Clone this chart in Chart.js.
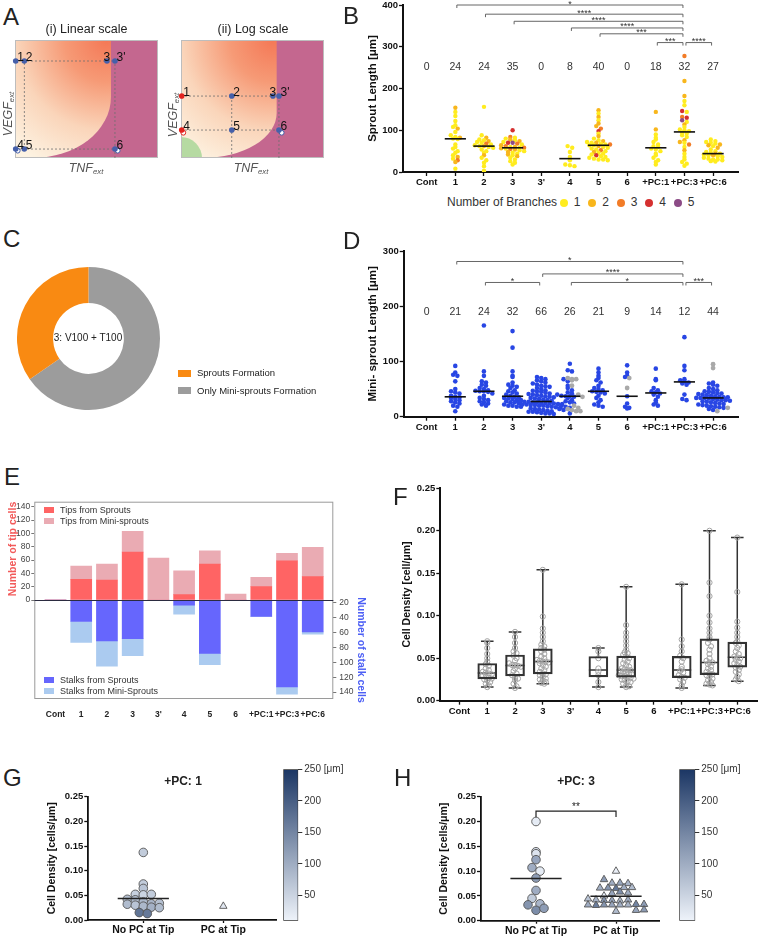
<!DOCTYPE html>
<html>
<head>
<meta charset="utf-8">
<script src="https://cdn.jsdelivr.net/npm/chart.js@4.4.1/dist/chart.umd.min.js"></script>
<style>
  body { margin: 0; background: #fff; width: 762px; height: 937px; position: relative; overflow: hidden; font-family: "Liberation Sans", Arial, sans-serif; }
  canvas { position: absolute; }
  .t { position: absolute; white-space: nowrap; line-height: 1; color: #222; }
  .t sub { font-size: 0.62em; vertical-align: -0.3em; line-height: 0; }
  .sw { position: absolute; }
</style>
</head>
<body>
<script>
// ---------- data ----------
const cats = ['Cont', '1', '2', '3', "3'", '4', '5', '6', '+PC:1', '+PC:3', '+PC:6'];

// A: schematic (percent of TNF / VEGF range)
const pointNames = ['1', '2', '3', "3'", '4', '5', '6'];
const linX = [0.5, 6.5, 64.3, 69.9, 0.5, 6.5, 69.9];
const linY = [82.2, 82.2, 82.2, 82.2, 7.6, 7.6, 7.6];
const logX = [0.5, 35.5, 64.3, 68.5, 0.5, 35.5, 68.5];
const logY = [52.5, 52.5, 52.5, 52.5, 23.7, 23.7, 23.7];

// B: sprout length per condition, and number of branches per sprout
const sproutLen = [
  [],
  [154, 144, 134, 122, 112, 108, 104, 96, 88, 84, 82, 80, 79, 66, 60, 56, 50, 46, 40, 36, 32, 28, 24, 8],
  [156, 88, 82, 78, 76, 74, 72, 70, 68, 66, 64, 62, 62, 60, 58, 54, 50, 46, 40, 34, 28, 22, 14, 3],
  [100, 84, 82, 80, 78, 76, 74, 72, 70, 70, 68, 66, 64, 62, 60, 60, 58, 58, 57, 56, 55, 54, 52, 50, 48, 46, 44, 42, 40, 38, 34, 30, 26, 22, 18],
  [],
  [62, 58, 48, 36, 28, 18, 16, 14],
  [148, 140, 132, 124, 116, 110, 104, 98, 92, 86, 80, 76, 74, 72, 70, 70, 68, 66, 66, 64, 64, 62, 60, 58, 56, 54, 52, 50, 48, 46, 44, 42, 40, 38, 36, 34, 32, 30, 30, 28],
  [],
  [144, 102, 90, 82, 78, 72, 66, 62, 60, 56, 54, 50, 44, 40, 34, 28, 24, 18],
  [278, 218, 182, 170, 160, 146, 144, 132, 130, 124, 120, 114, 108, 102, 100, 98, 94, 92, 88, 84, 76, 72, 70, 66, 60, 52, 44, 36, 30, 24, 20, 15],
  [78, 74, 72, 70, 68, 66, 64, 62, 58, 54, 50, 48, 46, 44, 44, 42, 40, 40, 38, 36, 34, 32, 30, 30, 28, 26, 25]
];
const sproutBranches = [
  [],
  [2, 1, 1, 1, 1, 1, 2, 1, 1, 1, 2, 1, 1, 1, 1, 1, 1, 1, 1, 2, 1, 3, 2, 1],
  [1, 1, 2, 1, 1, 2, 1, 1, 3, 1, 1, 1, 2, 1, 1, 1, 1, 1, 2, 1, 1, 1, 1, 1],
  [4, 3, 1, 1, 2, 1, 2, 1, 4, 5, 3, 1, 2, 3, 1, 2, 1, 3, 2, 1, 3, 2, 1, 1, 2, 1, 1, 2, 1, 2, 1, 1, 1, 1, 1],
  [],
  [1, 1, 1, 1, 1, 1, 1, 1],
  [2, 1, 2, 1, 2, 2, 3, 4, 1, 2, 1, 1, 2, 1, 1, 2, 1, 1, 3, 1, 1, 2, 1, 1, 1, 1, 3, 1, 2, 1, 1, 1, 4, 1, 1, 1, 1, 1, 1, 1],
  [],
  [2, 2, 1, 1, 1, 1, 1, 1, 1, 1, 1, 1, 1, 1, 1, 1, 1, 1],
  [3, 2, 2, 1, 1, 4, 1, 3, 4, 5, 1, 2, 1, 1, 1, 1, 1, 1, 1, 1, 2, 2, 1, 3, 1, 2, 1, 1, 1, 1, 1, 1],
  [1, 1, 1, 1, 1, 2, 2, 1, 2, 1, 1, 1, 1, 2, 1, 1, 1, 2, 1, 1, 1, 1, 1, 1, 1, 1, 1]
];
const branchColors = ['#ffec1f', '#f8b61c', '#f27c27', '#d53030', '#8c4b86'];
const bFrom = [1, 2, 3, 5, 6, 8, 9];
const bTo = [9, 9, 9, 9, 9, 9, 10];
const bLevel = [400, 378, 361, 345, 331, 310, 310];
const bStars = ['*', '****', '****', '****', '***', '***', '****'];

// C: outcome share for condition 3
const shareLabels = ['Only Mini-sprouts Formation', 'Sprouts Formation'];
const shareCounts = [66, 35];

// D: mini-sprout length (blue) and extra grey points
const miniLen = [
  [],
  [92, 80, 76, 74, 64, 50, 46, 44, 42, 38, 36, 35, 34, 32, 30, 28, 26, 24, 20, 18, 10],
  [165, 82, 74, 64, 62, 58, 56, 52, 50, 48, 47, 46, 46, 45, 42, 38, 34, 32, 30, 28, 26, 24, 22, 20],
  [155, 125, 82, 74, 72, 62, 58, 56, 54, 52, 48, 46, 44, 42, 40, 38, 36, 35, 34, 33, 32, 30, 30, 28, 26, 26, 24, 22, 20, 20, 18, 18],
  [72, 70, 68, 66, 64, 62, 60, 58, 56, 55, 54, 52, 50, 48, 47, 46, 45, 44, 42, 41, 40, 39, 38, 37, 36, 35, 34, 33, 32, 31, 30, 29, 28, 27, 27, 26, 26, 25, 25, 24, 24, 23, 23, 22, 22, 21, 21, 20, 20, 19, 18, 17, 16, 15, 14, 13, 12, 11, 10, 9, 9, 8, 7, 6, 6, 5],
  [96, 84, 82, 68, 64, 56, 52, 48, 44, 42, 40, 38, 37, 37, 36, 34, 30, 28, 26, 24, 20, 18, 16, 14, 12, 6],
  [87, 80, 74, 70, 66, 62, 56, 52, 50, 48, 46, 45, 44, 42, 38, 34, 30, 26, 22, 20, 18],
  [93, 80, 74, 72, 37, 24, 18, 16, 15],
  [87, 68, 66, 52, 48, 46, 44, 42, 40, 36, 30, 26, 22, 20],
  [144, 92, 84, 68, 66, 64, 62, 60, 58, 40, 32, 30],
  [62, 60, 58, 56, 52, 50, 48, 46, 45, 44, 43, 42, 41, 40, 39, 38, 37, 36, 35, 35, 34, 34, 34, 33, 32, 31, 30, 30, 29, 28, 27, 26, 25, 24, 23, 22, 21, 20, 19, 18, 17, 16, 14, 12]
];
const miniLenGray = [[], [], [], [], [], [70, 68, 68, 66, 56, 40, 36, 20, 16, 14, 12, 10, 10], [], [70, 52], [], [], [95, 88, 16, 10]];
const dFrom = [1, 4, 2, 5, 9];
const dTo = [9, 9, 4, 9, 10];
const dLevel = [281, 258.5, 243, 243, 243];
const dStars = ['*', '****', '*', '*', '***'];

// E: tip and stalk cells
const tipsSprouts = [0, 31, 30, 72, 0, 8, 54, 0, 20, 59, 35];
const tipsMini = [0, 20, 24, 31, 63, 36, 20, 9, 14, 11, 44];
const stalksSprouts = [0, 29, 55, 52, 0, 7, 72, 0, 22, 117, 43];
const stalksMini = [0, 28, 34, 23, 0, 12, 15, 0, 0, 10, 3];
const tipTicks = [0, 20, 40, 60, 80, 100, 120, 140];
const stalkTicks = [20, 40, 60, 80, 100, 120, 140];

// F: cell density per sprout
const cellDensity = [
  [],
  [0.070, 0.068, 0.062, 0.055, 0.050, 0.046, 0.043, 0.041, 0.038, 0.036, 0.034, 0.033, 0.032, 0.031, 0.030, 0.028, 0.027, 0.026, 0.025, 0.024, 0.022, 0.020, 0.018, 0.016],
  [0.081, 0.075, 0.068, 0.062, 0.058, 0.056, 0.053, 0.050, 0.047, 0.044, 0.042, 0.042, 0.041, 0.040, 0.038, 0.035, 0.032, 0.030, 0.027, 0.026, 0.024, 0.020, 0.017, 0.015],
  [0.154, 0.099, 0.085, 0.080, 0.075, 0.070, 0.066, 0.064, 0.062, 0.060, 0.058, 0.055, 0.052, 0.050, 0.048, 0.047, 0.046, 0.046, 0.045, 0.044, 0.042, 0.040, 0.038, 0.036, 0.034, 0.032, 0.031, 0.030, 0.028, 0.026, 0.025, 0.024, 0.022, 0.021, 0.020],
  [],
  [0.062, 0.058, 0.050, 0.038, 0.034, 0.030, 0.022, 0.016],
  [0.134, 0.089, 0.080, 0.075, 0.070, 0.065, 0.060, 0.057, 0.056, 0.054, 0.052, 0.050, 0.048, 0.046, 0.044, 0.042, 0.040, 0.038, 0.037, 0.036, 0.036, 0.035, 0.034, 0.033, 0.032, 0.031, 0.030, 0.029, 0.029, 0.028, 0.027, 0.026, 0.025, 0.024, 0.023, 0.022, 0.020, 0.018, 0.017, 0.016],
  [],
  [0.137, 0.072, 0.064, 0.058, 0.053, 0.050, 0.046, 0.040, 0.037, 0.035, 0.033, 0.030, 0.028, 0.027, 0.025, 0.022, 0.018, 0.015],
  [0.200, 0.139, 0.123, 0.100, 0.092, 0.085, 0.080, 0.075, 0.072, 0.068, 0.064, 0.060, 0.055, 0.050, 0.047, 0.045, 0.045, 0.043, 0.040, 0.038, 0.036, 0.034, 0.032, 0.031, 0.030, 0.028, 0.026, 0.024, 0.022, 0.020, 0.019, 0.018],
  [0.192, 0.128, 0.093, 0.086, 0.080, 0.075, 0.070, 0.068, 0.065, 0.062, 0.058, 0.055, 0.052, 0.051, 0.050, 0.048, 0.046, 0.044, 0.042, 0.040, 0.039, 0.036, 0.034, 0.031, 0.028, 0.025, 0.023]
];

// G, H: density vs pericyte at tip, coloured by sprout length
const tipGroups = ['No PC at Tip', 'PC at Tip'];
const gNoPcDensity = [0.137, 0.073, 0.064, 0.052, 0.051, 0.052, 0.042, 0.041, 0.037, 0.033, 0.032, 0.034, 0.030, 0.028, 0.026, 0.025, 0.015, 0.013];
const gNoPcLength = [60, 60, 70, 55, 50, 60, 75, 80, 85, 90, 80, 75, 70, 85, 95, 80, 170, 165];
const gPcDensity = [0.028];
const gPcLength = [25];
const hNoPcDensity = [0.200, 0.139, 0.135, 0.123, 0.107, 0.100, 0.086, 0.061, 0.045, 0.032, 0.034, 0.021, 0.025];
const hNoPcLength = [20, 40, 30, 110, 100, 20, 120, 100, 60, 130, 90, 140, 120];
const hPcDensity = [0.100, 0.083, 0.076, 0.076, 0.075, 0.066, 0.066, 0.065, 0.067, 0.067, 0.050, 0.055, 0.058, 0.056, 0.044, 0.042, 0.041, 0.041, 0.040, 0.042, 0.032, 0.031, 0.032, 0.032, 0.033, 0.033, 0.032, 0.032, 0.021, 0.019, 0.022];
const hPcLength = [15, 120, 100, 110, 90, 95, 130, 170, 100, 80, 15, 110, 140, 100, 70, 90, 130, 110, 80, 100, 100, 160, 130, 110, 150, 120, 100, 90, 110, 80, 120];
const cbMin = 10, cbMax = 250;
const cbTicks = [50, 100, 150, 200, 250];

// ---------- helpers ----------
const FONT = '"Liberation Sans", Arial, sans-serif';
Chart.defaults.font.family = FONT;
Chart.defaults.color = '#222';
Chart.defaults.animation = false;
Chart.defaults.responsive = false;
Chart.defaults.plugins.legend.display = false;
Chart.defaults.plugins.tooltip.enabled = false;

function mkCanvas(x, y, w, h) {
  const c = document.createElement('canvas');
  c.width = w; c.height = h;
  c.style.left = x + 'px'; c.style.top = y + 'px';
  document.body.appendChild(c);
  return c;
}

function txt(html, x, y, size, o = {}) {
  const d = document.createElement('div');
  d.className = 't';
  d.innerHTML = html;
  d.style.fontSize = size + 'px';
  if (o.bold) d.style.fontWeight = 'bold';
  if (o.italic) d.style.fontStyle = 'italic';
  if (o.color) d.style.color = o.color;
  d.style.left = x + 'px';
  if (o.rot) {
    d.style.top = y + 'px';
    d.style.transform = `translate(-50%,-50%) rotate(${o.rot}deg)`;
  } else {
    d.style.top = (y - 0.846 * size) + 'px';
    if (o.align === 'center') d.style.transform = 'translateX(-50%)';
  }
  document.body.appendChild(d);
}

function swatch(x, y, w, h, color, round) {
  const d = document.createElement('div');
  d.className = 'sw';
  d.style.cssText = `left:${x}px;top:${y}px;width:${w}px;height:${h}px;background:${color};` + (round ? 'border-radius:50%;' : '');
  document.body.appendChild(d);
}

function median(a) {
  const s = [...a].sort((p, q) => p - q), n = s.length;
  return n % 2 ? s[(n - 1) / 2] : (s[n / 2 - 1] + s[n / 2]) / 2;
}
function mean(a) { return a.reduce((p, q) => p + q, 0) / a.length; }
function quantile(a, p) {
  const s = [...a].sort((u, v) => u - v);
  const pos = (s.length - 1) * p, lo = Math.floor(pos);
  return s[lo] + (s[Math.min(lo + 1, s.length - 1)] - s[lo]) * (pos - lo);
}

// spread points of one group sideways in rows (dot plot layout)
function rows(vals, center, yPx, xPx, binPx, gapPx) {
  const bins = new Map();
  vals.forEach((v, i) => {
    const b = Math.round(v * yPx / binPx);
    if (!bins.has(b)) bins.set(b, []);
    bins.get(b).push(i);
  });
  const xs = new Array(vals.length);
  bins.forEach(list => list.forEach((idx, j) => {
    xs[idx] = center + (j - (list.length - 1) / 2) * gapPx / xPx;
  }));
  return xs;
}

function cmap(v) {
  const lo = [238, 243, 250], hi = [27, 54, 100];
  const t = Math.min(1, Math.max(0, (v - cbMin) / (cbMax - cbMin)));
  return `rgb(${lo.map((c, k) => Math.round(c + (hi[k] - c) * t)).join(',')})`;
}

function catAxis(min, max, h, size) {
  return {
    type: 'linear', min, max, offset: false,
    afterBuildTicks: s => { s.ticks = cats.map((c, i) => ({ value: i })); },
    afterFit: s => { s.height = h; s.paddingLeft = 0; s.paddingRight = 0; },
    border: { color: '#111', width: 2 },
    grid: { drawOnChartArea: false, offset: false, tickLength: 4, tickColor: '#111', tickWidth: 1.3 },
    ticks: { callback: v => cats[v], autoSkip: false, maxRotation: 0, padding: 1, color: '#111', font: { size: size, weight: 'bold' } }
  };
}

function valAxis(min, max, step, w, title, titleSize, titlePad, fmt) {
  return {
    min, max,
    afterFit: s => { s.width = w; s.paddingTop = 0; s.paddingBottom = 0; },
    border: { color: '#111', width: 2 },
    grid: { drawOnChartArea: false, tickLength: 4, tickColor: '#111', tickWidth: 1.3 },
    ticks: { stepSize: step, padding: 1, color: '#111', font: { size: 9.5, weight: 'bold' }, callback: fmt || (v => v) },
    title: { display: true, text: title, color: '#111', font: { size: titleSize, weight: 'bold' }, padding: { top: titlePad, bottom: 0 } }
  };
}

function dotExtras(groups, countAt, from, to, level, stars) {
  return {
    id: 'dotExtras',
    afterDatasetsDraw(chart) {
      const { ctx, scales: { x, y } } = chart;
      ctx.save();
      groups.forEach((vals, i) => {
        const cx = x.getPixelForValue(i);
        ctx.font = '10.5px ' + FONT;
        ctx.fillStyle = '#333';
        ctx.textAlign = 'center';
        ctx.textBaseline = 'middle';
        ctx.fillText(String(vals.length), cx, y.getPixelForValue(countAt));
        if (!vals.length) return;
        const my = y.getPixelForValue(median(vals));
        ctx.strokeStyle = '#111';
        ctx.lineWidth = 1.6;
        ctx.beginPath();
        ctx.moveTo(x.getPixelForValue(i - 0.37), my);
        ctx.lineTo(x.getPixelForValue(i + 0.37), my);
        ctx.stroke();
      });
      ctx.strokeStyle = '#555';
      ctx.lineWidth = 0.9;
      ctx.fillStyle = '#333';
      ctx.font = '9px ' + FONT;
      ctx.textBaseline = 'alphabetic';
      from.forEach((f, k) => {
        const x1 = x.getPixelForValue(f) + 1.5, x2 = x.getPixelForValue(to[k]) - 1.5;
        const py = y.getPixelForValue(level[k]);
        ctx.beginPath();
        ctx.moveTo(x1, py + 3); ctx.lineTo(x1, py); ctx.lineTo(x2, py); ctx.lineTo(x2, py + 3);
        ctx.stroke();
        ctx.fillText(stars[k], (x1 + x2) / 2, py + 1.5);
      });
      ctx.restore();
    }
  };
}

// ---------- A ----------
function phasePlugin(shape) {
  return {
    id: 'phase',
    beforeDatasetsDraw(chart) {
      const { ctx, chartArea: a, scales: { x, y } } = chart;
      ctx.save();
      ctx.fillStyle = '#c4678f';
      ctx.fillRect(a.left, a.top, a.width, a.height);
      const xb = x.getPixelForValue(shape.xb), yc = y.getPixelForValue(shape.yc), x0 = x.getPixelForValue(shape.x0);
      const g = ctx.createRadialGradient(xb - 4, a.top, 0, xb - 4, a.top, 140);
      g.addColorStop(0, '#f47856');
      g.addColorStop(0.3, '#f69a76');
      g.addColorStop(0.65, '#fad5ba');
      g.addColorStop(1, '#fdf3e2');
      ctx.fillStyle = g;
      ctx.beginPath();
      ctx.moveTo(a.left, a.top);
      ctx.lineTo(xb, a.top);
      ctx.lineTo(xb, yc);
      ctx.ellipse(x0, yc, xb - x0, a.bottom - yc, 0, 0, Math.PI / 2);
      ctx.lineTo(a.left, a.bottom);
      ctx.closePath();
      ctx.fill();
      if (shape.green) {
        const rx = x.getPixelForValue(shape.green[0]) - a.left, ry = a.bottom - y.getPixelForValue(shape.green[1]);
        ctx.fillStyle = '#b6daa2';
        ctx.beginPath();
        ctx.moveTo(a.left, a.bottom);
        ctx.ellipse(a.left, a.bottom, rx, ry, 0, -Math.PI / 2, 0);
        ctx.closePath();
        ctx.fill();
      }
      ctx.strokeStyle = '#bdbdbd';
      ctx.lineWidth = 1;
      ctx.strokeRect(a.left + 0.5, a.top + 0.5, a.width - 1, a.height - 1);
      ctx.strokeStyle = '#6f6f6f';
      ctx.lineWidth = 0.8;
      ctx.setLineDash([2, 2]);
      shape.guides.forEach(([x1, y1, x2, y2]) => {
        ctx.beginPath();
        ctx.moveTo(x.getPixelForValue(x1), y.getPixelForValue(y1));
        ctx.lineTo(x.getPixelForValue(x2), y.getPixelForValue(y2));
        ctx.stroke();
      });
      ctx.restore();
    },
    afterDatasetsDraw(chart) {
      const { ctx } = chart;
      const pts = chart.getDatasetMeta(0).data;
      ctx.save();
      ctx.font = '12px ' + FONT;
      ctx.fillStyle = '#111';
      ctx.textBaseline = 'alphabetic';
      pts.forEach((p, i) => {
        const name = pointNames[i];
        ctx.textAlign = name === '3' ? 'center' : 'left';
        ctx.fillText(name, name === '3' ? p.x : p.x + 1.5, p.y - 0.5);
      });
      ctx.restore();
    }
  };
}

function phaseChart(left, px, py, red, openX, openY, openRed, shape) {
  new Chart(mkCanvas(left, 30, 163, 138), {
    type: 'scatter',
    data: {
      datasets: [
        { data: px.map((v, i) => ({ x: v, y: py[i] })), pointRadius: 2.8, pointBorderWidth: 0,
          pointBackgroundColor: px.map((v, i) => red.includes(i) ? '#e3231f' : '#4660aa'), clip: false },
        { data: openX.map((v, i) => ({ x: v, y: openY[i] })), pointRadius: 2.4, pointBackgroundColor: '#fff',
          pointBorderColor: openRed.map(r => r ? '#e3231f' : '#4660aa'), pointBorderWidth: 1, clip: false }
      ]
    },
    options: {
      layout: { padding: 10 },
      scales: { x: { display: false, min: 0, max: 100 }, y: { display: false, min: 0, max: 100 } }
    },
    plugins: [phasePlugin(shape)]
  });
}

phaseChart(5, linX, linY, [], [1.9, 71.8], [6.2, 6.2], [false, false], {
  xb: 67.1, yc: 51.7, x0: 12.6,
  guides: [[0, 82.2, 69.9, 82.2], [0, 7.6, 69.9, 7.6], [6.5, 7.6, 6.5, 82.2], [69.9, 0, 69.9, 82.2]]
});
phaseChart(171, logX, logY, [0, 4], [1.6, 70.4], [21.4, 21.4], [true, false], {
  xb: 66.9, yc: 38.1, x0: 15.4, green: [14.7, 17.8],
  guides: [[0, 52.5, 68.5, 52.5], [0, 23.7, 68.5, 23.7], [35.5, 0, 35.5, 52.5], [68.5, 0, 68.5, 52.5]]
});

txt('A', 3, 25.5, 24);
txt('(i) Linear scale', 86.5, 33.5, 12.5, { align: 'center' });
txt('(ii) Log scale', 253, 33.5, 12.5, { align: 'center' });
txt('VEGF<sub>ext</sub>', 7.5, 114, 12.5, { rot: -90, italic: true, color: '#555' });
txt('VEGF<sub>ext</sub>', 173, 115, 12.5, { rot: -90, italic: true, color: '#555' });
txt('TNF<sub>ext</sub>', 86, 172.5, 12.5, { align: 'center', italic: true, color: '#555' });
txt('TNF<sub>ext</sub>', 251, 172.5, 12.5, { align: 'center', italic: true, color: '#555' });

// ---------- B ----------
const bPoints = [], bColors = [];
sproutLen.forEach((vals, i) => {
  const xs = rows(vals, i, 0.4175, 28.63, 3.2, 4.6);
  vals.forEach((v, j) => {
    bPoints.push({ x: xs[j], y: v });
    bColors.push(branchColors[sproutBranches[i][j] - 1]);
  });
});
new Chart(mkCanvas(355, 0, 400, 192), {
  type: 'scatter',
  data: { datasets: [{ data: bPoints, pointRadius: 2.2, pointBorderWidth: 0, pointBackgroundColor: bColors }] },
  options: {
    layout: { padding: { top: 5, right: 17, left: 0, bottom: 0 } },
    scales: {
      x: catAxis(-0.828, 10.87, 20, 9.5),
      y: valAxis(0, 400, 100, 48, 'Sprout Length [μm]', 11.5, 11)
    }
  },
  plugins: [dotExtras(sproutLen, 251, bFrom, bTo, bLevel, bStars)]
});
txt('B', 343, 24, 24);
txt('Number of Branches', 447, 206.5, 12, { color: '#333' });
branchColors.forEach((c, k) => {
  const cx = 563.7 + k * 28.5;
  swatch(cx - 4, 198.5, 8, 8, c, true);
  txt(String(k + 1), cx + 10, 206.5, 12, { color: '#333' });
});

// ---------- C ----------
new Chart(mkCanvas(16.5, 266.5, 143, 143), {
  type: 'doughnut',
  data: { labels: shareLabels, datasets: [{ data: shareCounts, backgroundColor: ['#9c9c9c', '#f98a12'], borderWidth: 0 }] },
  options: { cutout: '49.5%', layout: { padding: 0 } }
});
txt('C', 3, 247.5, 24);
txt('3: V100 + T100', 88, 341.5, 10, { align: 'center' });
swatch(178, 370, 12.7, 6.5, '#f98a12');
txt(shareLabels[1], 197, 376.5, 9.5);
swatch(178, 387.3, 12.7, 6.5, '#9c9c9c');
txt(shareLabels[0], 197, 394, 9.5);

// ---------- D ----------
const dBlue = [], dGray = [];
miniLen.forEach((blue, i) => {
  const gray = miniLenGray[i];
  const xs = rows(blue.concat(gray), i, 0.552, 28.63, 3.5, 4.2);
  blue.forEach((v, j) => dBlue.push({ x: xs[j], y: v }));
  gray.forEach((v, j) => dGray.push({ x: xs[blue.length + j], y: v }));
});
new Chart(mkCanvas(355, 245, 400, 192), {
  type: 'scatter',
  data: {
    datasets: [
      { data: dGray, pointRadius: 2.4, pointBorderWidth: 0, pointBackgroundColor: '#a9a9a9' },
      { data: dBlue, pointRadius: 2.3, pointBorderWidth: 0, pointBackgroundColor: '#2846e4' }
    ]
  },
  options: {
    layout: { padding: { top: 6, right: 17, left: 0, bottom: 0 } },
    scales: {
      x: catAxis(-0.80, 10.87, 20.3, 9.5),
      y: valAxis(0, 300, 100, 48.7, 'Mini- sprout Length [μm]', 11.5, 11)
    }
  },
  plugins: [dotExtras(miniLen, 190, dFrom, dTo, dLevel, dStars)]
});
txt('D', 343, 249, 24);

// ---------- E ----------
const eFrame = {
  id: 'eFrame',
  afterDatasetsDraw(chart) {
    const { ctx, chartArea: a, scales: { y } } = chart;
    ctx.save();
    ctx.strokeStyle = '#9a9a9a';
    ctx.lineWidth = 1;
    ctx.strokeRect(a.left + 0.5, a.top + 0.5, a.width - 1, a.height - 1);
    const zy = Math.round(y.getPixelForValue(0)) + 0.5;
    ctx.strokeStyle = '#2b2b40';
    ctx.beginPath(); ctx.moveTo(a.left, zy); ctx.lineTo(a.right, zy); ctx.stroke();
    ctx.restore();
  }
};
new Chart(mkCanvas(0, 495, 381, 225), {
  type: 'bar',
  data: {
    datasets: [
      { data: tipsSprouts.map((v, i) => ({ x: i, y: v })), backgroundColor: '#ff6464', yAxisID: 'y', stack: 'all', barThickness: 21 },
      { data: tipsMini.map((v, i) => ({ x: i, y: v })), backgroundColor: '#eaabb3', yAxisID: 'y', stack: 'all', barThickness: 21 },
      { data: stalksSprouts.map((v, i) => ({ x: i, y: v })), backgroundColor: '#6666fd', yAxisID: 'ys', stack: 'all', barThickness: 21 },
      { data: stalksMini.map((v, i) => ({ x: i, y: v })), backgroundColor: '#abcbf0', yAxisID: 'ys', stack: 'all', barThickness: 21 }
    ]
  },
  options: {
    layout: { padding: { top: 6.7, right: 0, left: 0, bottom: 0 } },
    scales: {
      x: {
        type: 'linear', stacked: true, offset: false, min: -0.824, max: 10.8,
        afterBuildTicks: s => { s.ticks = cats.map((c, i) => ({ value: i })); },
        afterFit: s => { s.height = 21; s.paddingLeft = 0; s.paddingRight = 0; },
        border: { display: false }, grid: { display: false },
        ticks: { callback: v => cats[v], autoSkip: false, maxRotation: 0, padding: 3, color: '#222', font: { size: 8.5, weight: 'bold' } }
      },
      y: {
        position: 'left', stacked: true, min: -148.6, max: 147.6,
        afterBuildTicks: s => { s.ticks = tipTicks.map(v => ({ value: v })); },
        afterFit: s => { s.width = 34.3; s.paddingTop = 0; s.paddingBottom = 0; },
        border: { display: false },
        grid: { drawOnChartArea: false, tickLength: 3, tickColor: '#777' },
        ticks: { autoSkip: false, padding: 1, color: '#444', font: { size: 8.5 } }
      },
      yr: {
        position: 'right', reverse: true, min: -116.5, max: 149.4,
        afterBuildTicks: s => { s.ticks = stalkTicks.map(v => ({ value: v })); },
        afterFit: s => { s.width = 47.7; s.paddingTop = 0; s.paddingBottom = 0; },
        border: { display: false },
        grid: { drawOnChartArea: false, tickLength: 3, tickColor: '#777' },
        ticks: { autoSkip: false, padding: 3, color: '#444', font: { size: 8.5 } }
      },
      ys: { display: false, stacked: true, reverse: true, min: -132.5, max: 133.4 }
    }
  },
  plugins: [eFrame]
});
txt('E', 4, 485.5, 24);
txt('Number of tip cells', 11.7, 548.5, 10.5, { rot: -90, bold: true, color: '#f25a5a' });
txt('Number of stalk cells', 361.5, 650, 10.5, { rot: 90, bold: true, color: '#4c5ff5' });
swatch(44.3, 506.7, 10, 6.7, '#ff6464'); txt('Tips from Sprouts', 60, 513.5, 9, { color: '#333' });
swatch(44.3, 517.7, 10, 6.7, '#eaabb3'); txt('Tips from Mini-sprouts', 60, 524.5, 9, { color: '#333' });
swatch(44.3, 676.7, 10, 6.7, '#6666fd'); txt('Stalks from Sprouts', 60, 683.5, 9, { color: '#333' });
swatch(44.3, 687.7, 10, 6.7, '#abcbf0'); txt('Stalks from Mini-Sprouts', 60, 694.5, 9, { color: '#333' });

// ---------- F ----------
const fBoxes = [], fPts = [];
cellDensity.forEach((vals, i) => {
  if (!vals.length) return;
  fBoxes.push({ x: i, y: [quantile(vals, 0.25), quantile(vals, 0.75)] });
  const xs = rows(vals, i, 850, 28.13, 4, 3);
  vals.forEach((v, j) => fPts.push({ x: xs[j], y: v }));
});
const whiskers = {
  id: 'whiskers',
  beforeDatasetsDraw(chart) {
    const { ctx, scales: { x, y } } = chart;
    ctx.save();
    ctx.strokeStyle = '#333';
    ctx.lineWidth = 1.5;
    cellDensity.forEach((vals, i) => {
      if (!vals.length) return;
      const cx = x.getPixelForValue(i);
      const lo = y.getPixelForValue(Math.min(...vals)), hi = y.getPixelForValue(Math.max(...vals));
      const q1 = y.getPixelForValue(quantile(vals, 0.25)), q3 = y.getPixelForValue(quantile(vals, 0.75));
      const md = y.getPixelForValue(median(vals));
      ctx.beginPath();
      ctx.moveTo(cx, q3); ctx.lineTo(cx, hi);
      ctx.moveTo(cx - 6.3, hi); ctx.lineTo(cx + 6.3, hi);
      ctx.moveTo(cx, q1); ctx.lineTo(cx, lo);
      ctx.moveTo(cx - 6.3, lo); ctx.lineTo(cx + 6.3, lo);
      ctx.moveTo(cx - 9.5, md); ctx.lineTo(cx + 9.5, md);
      ctx.stroke();
    });
    ctx.restore();
  }
};
new Chart(mkCanvas(390, 480, 372, 245), {
  type: 'bar',
  data: {
    datasets: [
      { type: 'bar', data: fBoxes, backgroundColor: 'rgba(255,255,255,0)', borderColor: '#333', borderWidth: 1.5, borderSkipped: false, barThickness: 19 },
      { type: 'scatter', data: fPts, pointRadius: 2.6, pointBackgroundColor: 'rgba(255,255,255,0)', pointBorderColor: '#a3a3a3', pointBorderWidth: 1 }
    ]
  },
  options: {
    layout: { padding: { top: 8.3, right: 1, left: 0, bottom: 0 } },
    scales: {
      x: catAxis(-0.69, 10.71, 24.3, 9.5),
      y: valAxis(0, 0.25, 0.05, 50.3, 'Cell Density [cell/μm]', 10.5, 11, v => v.toFixed(2))
    }
  },
  plugins: [whiskers]
});
txt('F', 393, 505, 24);

// ---------- G, H ----------
function tipPlugin(groups, bracket) {
  return {
    id: 'tipExtras',
    afterDatasetsDraw(chart) {
      const { ctx, scales: { x, y } } = chart;
      ctx.save();
      ctx.strokeStyle = '#222';
      ctx.lineWidth = 1.5;
      groups.forEach((vals, i) => {
        if (vals.length < 2) return;
        const my = y.getPixelForValue(mean(vals));
        ctx.beginPath();
        ctx.moveTo(x.getPixelForValue(i - 0.32), my);
        ctx.lineTo(x.getPixelForValue(i + 0.32), my);
        ctx.stroke();
      });
      if (bracket) {
        const x1 = x.getPixelForValue(0), x2 = x.getPixelForValue(1), py = y.getPixelForValue(bracket.level);
        ctx.lineWidth = 1.2;
        ctx.beginPath();
        ctx.moveTo(x1, py + 6); ctx.lineTo(x1, py); ctx.lineTo(x2, py); ctx.lineTo(x2, py + 6);
        ctx.stroke();
        ctx.fillStyle = '#222';
        ctx.font = '10px ' + FONT;
        ctx.textAlign = 'center';
        ctx.fillText(bracket.stars, (x1 + x2) / 2, py - 1);
      }
      ctx.restore();
    }
  };
}

function tipPanel(cx, cy, cw, yW, padR, xMax, xH, titlePad, noDen, noLen, pcDen, pcLen, bracket) {
  const xsNo = rows(noDen, 0, 494, 80, 6.5, 8);
  const xsPc = rows(pcDen, 1, 494, 80, 6.5, 8);
  new Chart(mkCanvas(cx, cy, cw, 152), {
    type: 'scatter',
    data: {
      datasets: [
        { data: noDen.map((v, i) => ({ x: xsNo[i], y: v })), pointStyle: 'circle', pointRadius: 4.3,
          pointBackgroundColor: noLen.map(cmap), pointBorderColor: '#555', pointBorderWidth: 0.9 },
        { data: pcDen.map((v, i) => ({ x: xsPc[i], y: v })), pointStyle: 'triangle', pointRadius: 4.3,
          pointBackgroundColor: pcLen.map(cmap), pointBorderColor: '#555', pointBorderWidth: 0.9 }
      ]
    },
    options: {
      layout: { padding: { top: 11.7, right: padR, left: 0, bottom: 0 } },
      scales: {
        x: {
          type: 'linear', min: -0.6875, max: xMax, offset: false,
          afterBuildTicks: s => { s.ticks = tipGroups.map((g, i) => ({ value: i })); },
          afterFit: s => { s.height = xH; s.paddingLeft = 0; s.paddingRight = 0; },
          border: { color: '#111', width: 1.8 },
          grid: { drawOnChartArea: false, offset: false, tickLength: 3, tickColor: '#111', tickWidth: 1.3 },
          ticks: { callback: v => tipGroups[v], autoSkip: false, maxRotation: 0, padding: 1, color: '#111', font: { size: 10.5, weight: 'bold' } }
        },
        y: Object.assign(valAxis(0, 0.25, 0.05, yW, 'Cell Density [cells/μm]', 10.5, titlePad, v => v.toFixed(2)), {
          border: { color: '#111', width: 1.8 }
        })
      }
    },
    plugins: [tipPlugin([noDen, pcDen], bracket)]
  });
}

function colorBar(x, w, areaW) {
  new Chart(mkCanvas(x, 760, w, 170), {
    type: 'bar',
    data: {
      labels: [''],
      datasets: [{
        data: [[cbMin, cbMax]],
        backgroundColor: c => {
          const a = c.chart.chartArea;
          if (!a) return '#888';
          const g = c.chart.ctx.createLinearGradient(0, a.bottom, 0, a.top);
          g.addColorStop(0, cmap(cbMin));
          g.addColorStop(0.5, cmap((cbMin + cbMax) / 2));
          g.addColorStop(1, cmap(cbMax));
          return g;
        },
        borderColor: '#333', borderWidth: 1, borderSkipped: false, barPercentage: 1, categoryPercentage: 1
      }]
    },
    options: {
      layout: { padding: { left: 3.3, top: 9.3, bottom: 9.3, right: 0 } },
      scales: {
        x: { display: false },
        y: {
          position: 'right', min: cbMin, max: cbMax,
          afterBuildTicks: s => { s.ticks = cbTicks.map(v => ({ value: v })); },
          afterFit: s => { s.width = w - 3.3 - areaW; s.paddingTop = 0; s.paddingBottom = 0; },
          border: { display: false },
          grid: { drawOnChartArea: false, tickLength: 4, tickColor: '#333' },
          ticks: { padding: 2, color: '#333', font: { size: 10 }, callback: v => v === cbMax ? v + ' [μm]' : v }
        }
      }
    }
  });
}

tipPanel(35, 785, 250, 53.3, 8.3, 1.6675, 17, 10.4, gNoPcDensity, gNoPcLength, gPcDensity, gPcLength, null);
colorBar(280, 82, 15);
txt('G', 3, 786, 24);
txt('+PC: 1', 183, 785, 12, { bold: true, align: 'center' });

tipPanel(428, 785, 240, 53, 8.7, 1.541, 16.3, 10, hNoPcDensity, hNoPcLength, hPcDensity, hPcLength, { level: 0.221, stars: '**' });
colorBar(676, 86, 16);
txt('H', 394, 786, 24);
txt('+PC: 3', 576, 785, 12, { bold: true, align: 'center' });
</script>
</body>
</html>
